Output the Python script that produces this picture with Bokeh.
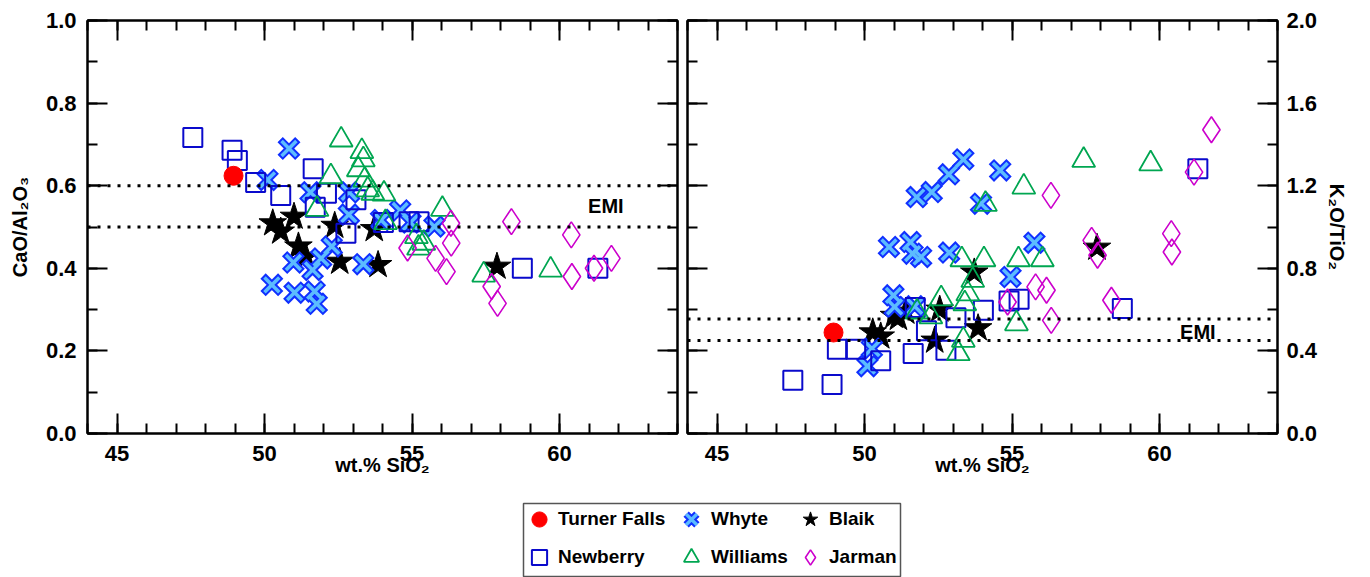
from bokeh.plotting import figure
from bokeh.models import (SingleIntervalTicker, LinearAxis, Range1d, Span, Label, Legend,
                          LegendItem, CustomJSTickFormatter, NumeralTickFormatter)
from bokeh.layouts import column, row
from bokeh.embed import file_html
from bokeh.resources import INLINE

# ---------------- data ----------------
turner_sio2 = [48.95]
turner_cao_al = [0.624]
turner_k2o_ti = [0.489]

newberry_sio2 = [47.57, 48.90, 49.08, 49.70, 50.55, 51.65, 51.72, 52.10, 52.76, 53.10, 54.03, 54.90, 55.24, 58.74, 61.30]
newberry_cao_al = [0.717, 0.686, 0.661, 0.608, 0.576, 0.641, 0.548, 0.582, 0.485, 0.566, 0.511, 0.513, 0.513, 0.400, 0.400]
newberry_k2o_ti = [0.258, 0.237, 0.408, 0.408, 0.352, 0.387, 0.610, 0.497, 0.403, 0.561, 0.597, 0.642, 0.650, 0.605, 1.282]

whyte_sio2 = [50.10, 50.25, 50.83, 50.98, 51.02, 51.56, 51.63, 51.70, 51.77, 51.92, 52.28, 52.87, 52.86, 53.35, 53.95, 54.60, 54.95, 55.76]
whyte_cao_al = [0.614, 0.360, 0.690, 0.414, 0.341, 0.584, 0.396, 0.344, 0.314, 0.424, 0.453, 0.584, 0.530, 0.410, 0.517, 0.540, 0.511, 0.501]
whyte_k2o_ti = [0.326, 0.411, 0.903, 0.669, 0.613, 0.927, 0.871, 0.616, 1.145, 0.855, 1.169, 0.876, 1.255, 1.327, 1.113, 1.274, 0.758, 0.924]

williams_sio2 = [51.78, 52.25, 52.60, 53.18, 53.30, 53.35, 53.40, 53.50, 53.67, 54.05, 54.10, 55.15, 55.40, 55.22, 56.03, 57.43, 59.70]
williams_cao_al = [0.543, 0.622, 0.711, 0.639, 0.683, 0.663, 0.614, 0.590, 0.582, 0.580, 0.511, 0.477, 0.461, 0.449, 0.543, 0.384, 0.396]
williams_k2o_ti = [0.589, 0.565, 0.653, 0.387, 0.842, 0.452, 0.629, 0.677, 0.742, 0.842, 1.110, 0.532, 1.194, 0.842, 0.842, 1.323, 1.306]

blaik_sio2 = [50.28, 50.55, 51.00, 51.15, 51.40, 52.38, 52.55, 53.72, 53.85, 57.88]
blaik_cao_al = [0.509, 0.489, 0.525, 0.453, 0.428, 0.503, 0.416, 0.495, 0.408, 0.404]
blaik_k2o_ti = [0.49, 0.47, 0.57, 0.56, 0.59, 0.45, 0.60, 0.78, 0.51, 0.90]

jarman_sio2 = [54.85, 55.80, 56.17, 56.32, 56.33, 57.70, 57.90, 58.37, 60.40, 60.42, 61.17, 61.76]
jarman_cao_al = [0.449, 0.424, 0.392, 0.509, 0.461, 0.356, 0.315, 0.513, 0.481, 0.380, 0.400, 0.424]
jarman_k2o_ti = [0.637, 0.710, 0.694, 1.153, 0.548, 0.935, 0.863, 0.645, 0.968, 0.879, 1.266, 1.471]

emi_cao_al = [0.6, 0.5]
emi_k2o_ti = [0.555, 0.45]

x_label = "wt.% SiO\u2082"
left_label = "CaO/Al\u2082O\u2083"
right_label = "K\u2082O/TiO\u2082"

# ---------------- styles ----------------
FONT = "Liberation Sans"
C_RED = "#ff0000"
C_NEW = "#0a0acc"
C_WHY_O = "#1030ff"
C_WHY_I = "#5cbcff"
C_WIL = "#00a651"
C_BLK = "#000000"
C_JAR = "#cc00cc"

EMPTY = CustomJSTickFormatter(code="return ''")

MARKERS = {
    "blaik": dict(marker="star", size=29, fill_color=C_BLK, line_color=C_BLK, line_width=1),
    "whyte_o": dict(marker="x", size=25, line_color=C_WHY_O, line_width=7.5),
    "whyte_i": dict(marker="x", size=21, line_color=C_WHY_I, line_width=3.5),
    "newberry": dict(marker="square", size=19, fill_color=None, line_color=C_NEW, line_width=2),
    "williams": dict(marker="triangle", size=23, fill_color=None, line_color=C_WIL, line_width=1.8),
    "jarman": dict(marker="diamond", size=26, fill_color=None, line_color=C_JAR, line_width=1.6),
    "turner": dict(marker="circle", size=19, fill_color=C_RED, line_color=C_RED, line_width=1),
}


def style_axis(ax, labeled):
    ax.level = "overlay"
    ax.axis_line_width = 2
    ax.axis_line_color = "black"
    ax.major_tick_in = 20
    ax.major_tick_out = 0
    ax.minor_tick_in = 10
    ax.minor_tick_out = 0
    ax.major_tick_line_width = 2
    ax.minor_tick_line_width = 2
    ax.major_tick_line_color = "black"
    ax.minor_tick_line_color = "black"
    ax.major_label_text_font = FONT
    ax.major_label_text_font_style = "bold"
    ax.major_label_text_color = "black"
    ax.axis_label_text_font = FONT
    ax.axis_label_text_font_style = "bold"
    ax.axis_label_text_font_size = "20px"
    ax.axis_label_text_color = "black"
    if labeled:
        ax.major_label_text_font_size = "22px"
    else:
        ax.major_label_text_font_size = "1px"
        ax.major_label_standoff = 0
        ax.formatter = EMPTY


def make_panel(width, mb_left, mb_right, ymax, y_interval, label_side, ylabel):
    p = figure(width=width, height=488, x_range=Range1d(44, 64), y_range=Range1d(0, ymax),
               output_backend="svg", toolbar_location=None,
               x_axis_location=None, y_axis_location=None,
               min_border_left=mb_left, min_border_right=mb_right,
               min_border_top=20, min_border_bottom=55)
    p.outline_line_color = "black"
    p.outline_line_width = 2
    p.background_fill_color = None
    p.border_fill_color = "white"
    p.grid.visible = False

    xb = LinearAxis(ticker=SingleIntervalTicker(interval=5, num_minor_ticks=5), axis_label=x_label)
    style_axis(xb, True)
    xb.major_label_standoff = 12
    xb.axis_label_standoff = -10
    p.add_layout(xb, "below")
    xt = LinearAxis(ticker=SingleIntervalTicker(interval=5, num_minor_ticks=5))
    style_axis(xt, False)
    p.add_layout(xt, "above")

    yl = LinearAxis(ticker=SingleIntervalTicker(interval=y_interval, num_minor_ticks=2))
    yr = LinearAxis(ticker=SingleIntervalTicker(interval=y_interval, num_minor_ticks=2))
    if label_side == "left":
        style_axis(yl, True)
        yl.formatter = NumeralTickFormatter(format="0.0")
        yl.axis_label = ylabel
        yl.major_label_standoff = 11
        yl.axis_label_standoff = 12
        style_axis(yr, False)
    else:
        style_axis(yr, True)
        yr.formatter = NumeralTickFormatter(format="0.0")
        yr.axis_label = ylabel
        yr.major_label_standoff = 9
        yr.axis_label_standoff = 6
        style_axis(yl, False)
    p.add_layout(yl, "left")
    p.add_layout(yr, "right")
    return p


def add_series(p, yvals):
    (y_tf, y_nb, y_wy, y_wi, y_bl, y_ja) = yvals
    r = {}
    r["blaik"] = [p.scatter(blaik_sio2, y_bl, **MARKERS["blaik"])]
    r["whyte"] = [p.scatter(whyte_sio2, y_wy, **MARKERS["whyte_o"]),
                  p.scatter(whyte_sio2, y_wy, **MARKERS["whyte_i"])]
    r["newberry"] = [p.scatter(newberry_sio2, y_nb, **MARKERS["newberry"])]
    r["williams"] = [p.scatter(williams_sio2, y_wi, **MARKERS["williams"])]
    r["jarman"] = [p.scatter(jarman_sio2, y_ja, **MARKERS["jarman"])]
    r["turner"] = [p.scatter(turner_sio2, y_tf, **MARKERS["turner"])]
    return r


def add_emi(p, levels, lx, ly):
    for lev in levels:
        p.add_layout(Span(location=lev, dimension="width", line_color="black",
                          line_width=3, line_dash="3 7"))
    p.add_layout(Label(x=lx, y=ly, text="EMI", text_align="center", text_baseline="middle",
                       text_font=FONT, text_font_style="bold", text_font_size="20px",
                       text_color="black"))


p1 = make_panel(682, 87, 5, 1.0, 0.2, "left", left_label)
add_series(p1, (turner_cao_al, newberry_cao_al, whyte_cao_al, williams_cao_al, blaik_cao_al, jarman_cao_al))
add_emi(p1, emi_cao_al, 61.57, 0.55)

p2 = make_panel(688, 5, 93, 2.0, 0.4, "right", right_label)
add_series(p2, (turner_k2o_ti, newberry_k2o_ti, whyte_k2o_ti, williams_k2o_ti, blaik_k2o_ti, jarman_k2o_ti))
add_emi(p2, emi_k2o_ti, 61.3, 0.49)

# ---------------- legend panel (its own frame is the legend box) ----------------
p3 = figure(width=1370, height=89, x_range=Range1d(0, 1), y_range=Range1d(0, 1),
            output_backend="svg", toolbar_location=None,
            x_axis_location=None, y_axis_location=None,
            min_border_left=523, min_border_right=470, min_border_top=15, min_border_bottom=1)
p3.outline_line_color = "#555555"
p3.outline_line_width = 1.5
p3.border_fill_color = "white"
p3.grid.visible = False
# same series drawn here only to feed the legend (they fall outside this panel's ranges)
lr = add_series(p3, (turner_cao_al, newberry_cao_al, whyte_cao_al, williams_cao_al, blaik_cao_al, jarman_cao_al))


def col_legend(items, xloc, standoff):
    lg = Legend(items=items, location=(xloc, 0), glyph_width=38, glyph_height=38,
                spacing=-3, padding=0, margin=0, label_standoff=standoff,
                border_line_color=None, background_fill_alpha=0,
                label_text_font=FONT, label_text_font_style="bold",
                label_text_font_size="19px", label_text_color="black")
    p3.add_layout(lg, "center")


col_legend([LegendItem(label="Turner Falls", renderers=lr["turner"]),
            LegendItem(label="Newberry", renderers=lr["newberry"])], -3, -8)
col_legend([LegendItem(label="Whyte", renderers=lr["whyte"]),
            LegendItem(label="Williams", renderers=lr["williams"])], 149, 1)
col_legend([LegendItem(label="Blaik", renderers=lr["blaik"]),
            LegendItem(label="Jarman", renderers=lr["jarman"])], 268, -2)

layout = column(row(p1, p2, spacing=0), p3, spacing=0)
open("out.html", "w").write(file_html(layout, INLINE))
